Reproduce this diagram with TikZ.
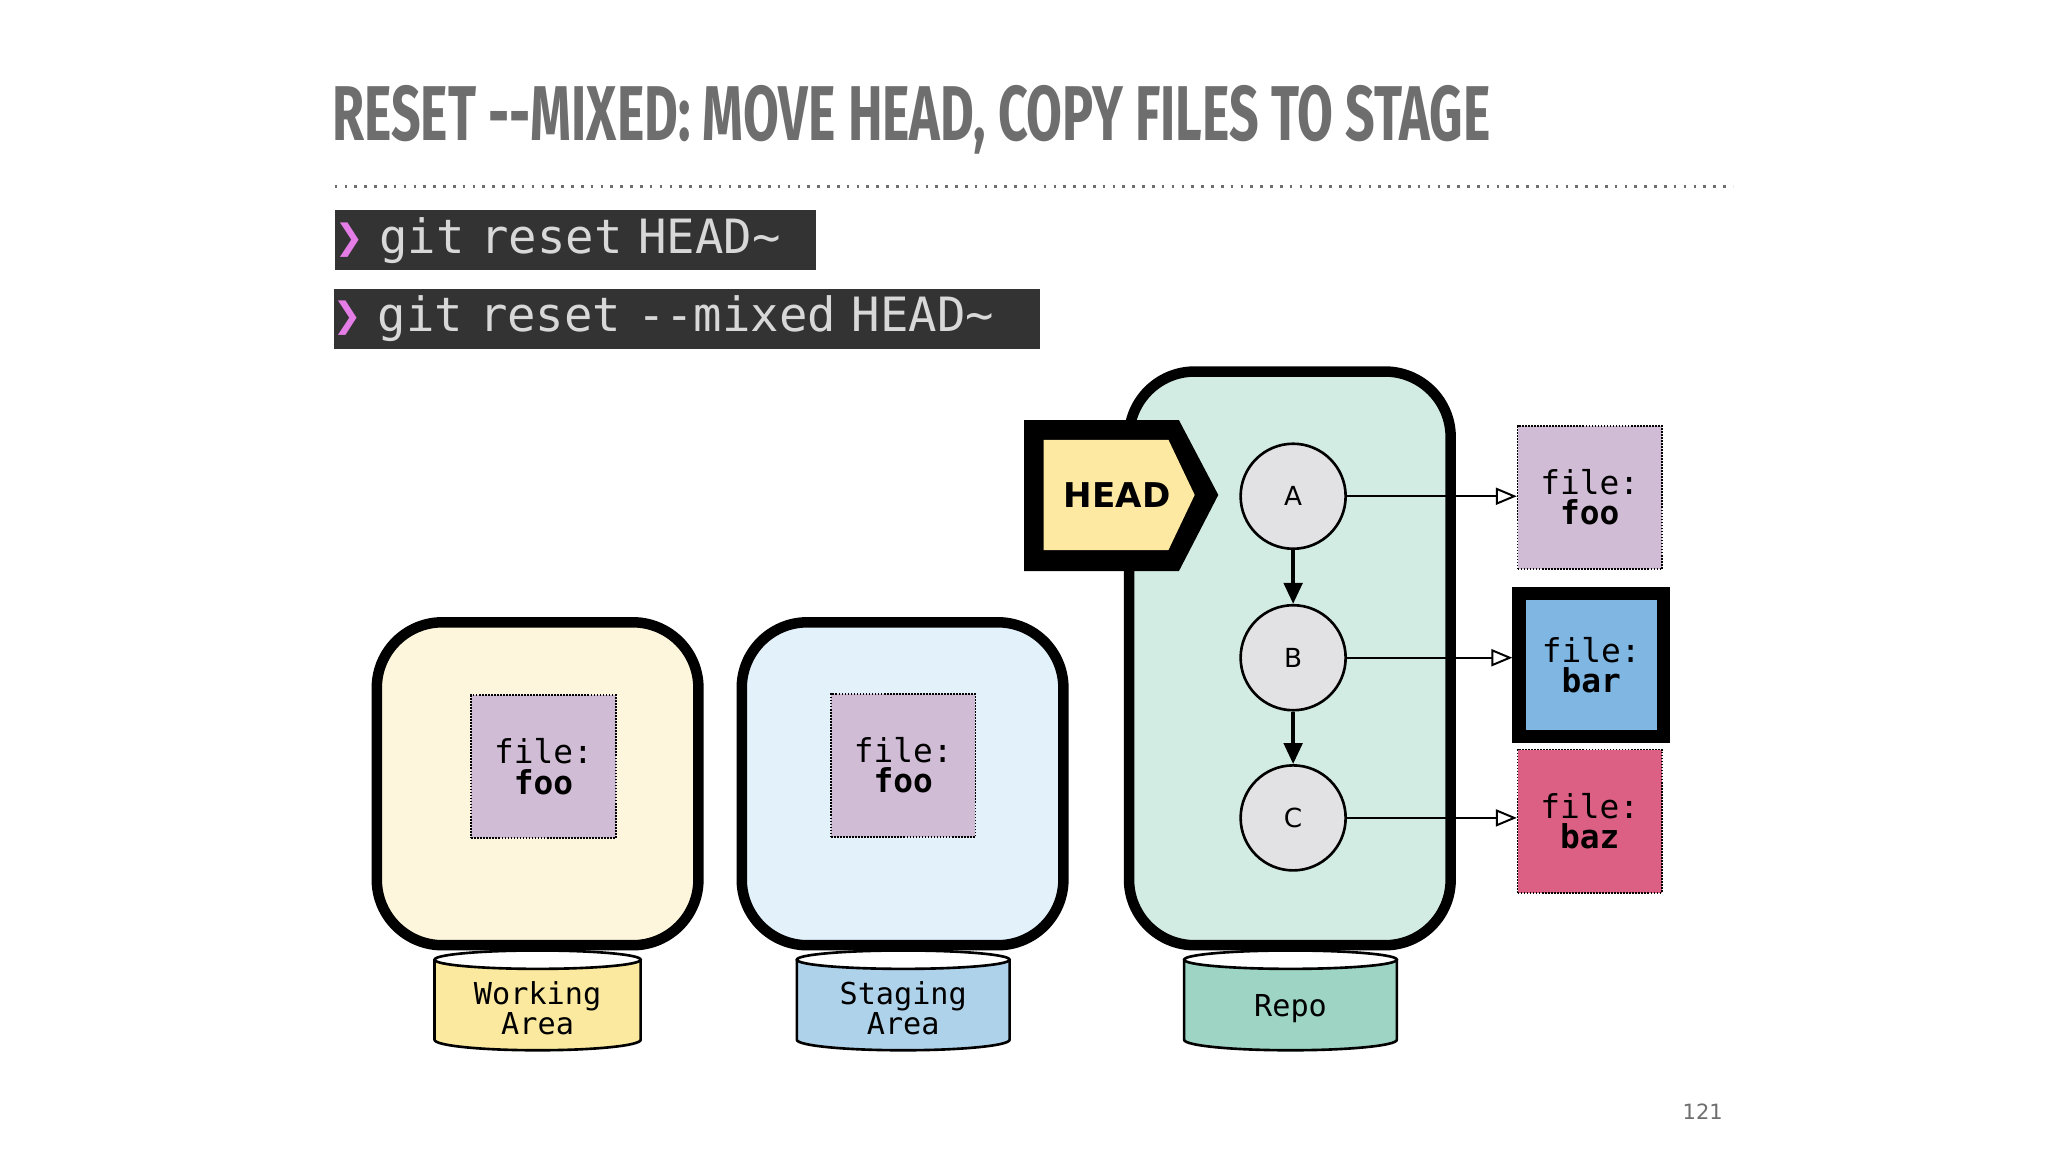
\documentclass[tikz,border=0pt]{standalone}
\usepackage{fontspec}
\setmainfont{DejaVu Sans}
\newfontfamily\monof{DejaVu Sans Mono}
\newfontfamily\titlef{Fira Sans}
\usetikzlibrary{arrows.meta}
\definecolor{ttl}{HTML}{6E6E6E}
\definecolor{cmdbg}{HTML}{333333}
\definecolor{cmdfg}{HTML}{D8D8D8}
\definecolor{prm}{HTML}{E57DE6}
\definecolor{wafill}{HTML}{FDF6DC}
\definecolor{safill}{HTML}{E3F1FB}
\definecolor{rpfill}{HTML}{D3ECE3}
\definecolor{wacyl}{HTML}{FBE9A0}
\definecolor{sacyl}{HTML}{AED2EA}
\definecolor{rpcyl}{HTML}{9DD4C4}
\definecolor{foof}{HTML}{D1BCD6}
\definecolor{barf}{HTML}{7FB6E2}
\definecolor{bazf}{HTML}{DC5F84}
\definecolor{headf}{HTML}{FDE9A2}
\definecolor{circf}{HTML}{E2E2E4}
\begin{document}
\begin{tikzpicture}[x=1pt,y=-1pt,
  area/.style={draw=black,line width=8pt,rounded corners=50pt,inner sep=0pt},
  filebox/.style={draw=black,densely dotted,line width=1.3pt,fill=foof,minimum width=110pt,minimum height=109pt,align=center,font=\monof\fontsize{25}{23}\selectfont,inner sep=0pt},
  commit/.style={circle,draw=black,line width=2pt,fill=circf,minimum size=80pt,font=\fontsize{20}{24}\selectfont,inner sep=0pt},
  cmd/.style={fill=cmdbg,anchor=west,inner sep=0pt,minimum height=46pt,text=cmdfg,font=\monof\fontsize{36}{36}\selectfont},
  cyllab/.style={align=center,font=\monof\fontsize{23}{23}\selectfont,inner sep=0pt},
  ptr/.style={line width=1.5pt,-{Triangle[open,length=16pt,width=13pt,line width=1.5pt]}},
  par/.style={line width=3pt,-{Triangle[length=16pt,width=14pt]}}]
\useasboundingbox (0,0) rectangle (1560,877.5);
\fill[white] (0,0) rectangle (1560,877.5);
% title
\node[anchor=west,inner sep=0pt,text=ttl] (title) at (253,91)
  {\resizebox{882pt}{42pt}{\titlef\bfseries RESET --MIXED: MOVE HEAD, COPY FILES TO STAGE}};
\coordinate (dl) at (255,142); \coordinate (dr) at (1320,142);
\draw[ttl,line width=2pt,dash pattern=on 2pt off 5.5pt] (dl) -- (dr);
% commands
\node[cmd,minimum width=366pt,text width=366pt] (c1) at (255,183) {\textcolor{prm}{❯} git reset HEAD\char`\~};
\node[cmd,minimum width=538pt,text width=538pt] (c2) at (254,243) {\textcolor{prm}{❯} git reset --mixed HEAD\char`\~};
% areas
\node[area,fill=wafill,minimum width=245pt,minimum height=246pt] (wa) at (409.5,597) {};
\node[area,fill=safill,minimum width=245pt,minimum height=246pt] (sa) at (687.5,597) {};
\node[area,fill=rpfill,minimum width=245pt,minimum height=437pt] (rp) at (982.5,501.5) {};
% cylinders
\foreach \nm/\cx/\w/\col in {wcyl/409.5/157/wacyl, scyl/688/162/sacyl, rcyl/983/162/rpcyl}{
  \pgfmathsetmacro\hw{\w/2}
  \fill[\col] (\cx-\hw,731) -- (\cx-\hw,792) arc[start angle=180,end angle=0,x radius=\hw,y radius=8] -- (\cx+\hw,731) arc[start angle=0,end angle=180,x radius=\hw,y radius=7] -- cycle;
  \draw[line width=2pt] (\cx-\hw,731) -- (\cx-\hw,792) arc[start angle=180,end angle=0,x radius=\hw,y radius=8] -- (\cx+\hw,731);
  \draw[line width=2pt] (\cx,731) ellipse[x radius=\hw,y radius=7];
  \coordinate (\nm) at (\cx,765);
}
\node[cyllab] (wl) at (409.5,768) {Working\\Area};
\node[cyllab] (sl) at (688,768) {Staging\\Area};
\node[cyllab] (rl) at (983,768) {Repo};
% files in areas
\node[filebox] (wf) at (414,584) {file:\\\bfseries foo};
\node[filebox] (sf) at (688,583) {file:\\\bfseries foo};
% HEAD
\coordinate (h1) at (780,320); \coordinate (h2) at (898,320); \coordinate (h3) at (928,377);
\coordinate (h4) at (898,435); \coordinate (h5) at (780,435);
\fill[black] (h1) -- (h2) -- (h3) -- (h4) -- (h5) -- cycle;
\fill[headf] (795,335) -- (890,335) -- (910,377) -- (890,419) -- (795,419) -- cycle;
\node[font=\bfseries\fontsize{26}{26}\selectfont,inner sep=0pt] (head) at (851,377) {HEAD};
% commits
\node[commit] (A) at (985,378) {A};
\node[commit] (B) at (985,501) {B};
\node[commit] (C) at (985,623) {C};
\draw[par] (A) -- (B);
\draw[par] (B) -- (C);
% files right
\node[filebox] (ffoo) at (1211,379) {file:\\\bfseries foo};
\node[filebox,densely dotted,fill=barf,solid,line width=10pt,minimum width=110pt,minimum height=109pt] (fbar) at (1212,506.5) {file:\\\bfseries bar};
\node[filebox,fill=bazf] (fbaz) at (1211,625.5) {file:\\\bfseries baz};
\draw[ptr] (A) -- (ffoo.west |- A);
\draw[ptr] (B) -- (fbar.west |- B);
\draw[ptr] (C) -- (fbaz.west |- C);
\node[text=ttl,font=\fontsize{16}{16}\selectfont,inner sep=0pt] (pg) at (1297,847) {121};
\end{tikzpicture}
\end{document}
